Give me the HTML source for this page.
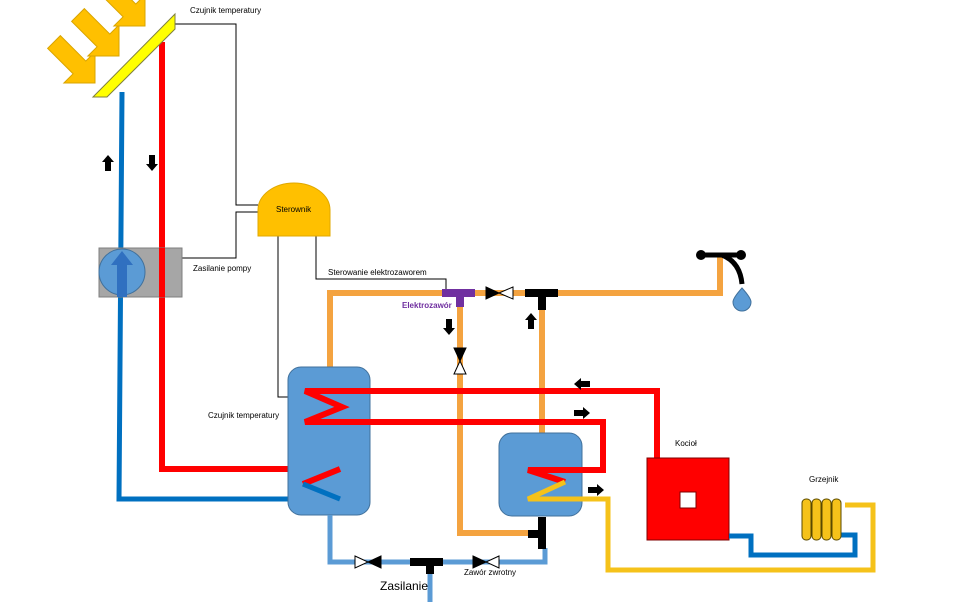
<!DOCTYPE html>
<html><head><meta charset="utf-8"><style>
html,body{margin:0;padding:0;background:#fff;}
svg{display:block;}
text{font-family:"Liberation Sans",sans-serif;}
</style></head><body>
<svg width="964" height="602" viewBox="0 0 964 602" xmlns="http://www.w3.org/2000/svg">
<defs>
<polygon id="sun" points="-58,-9 -22,-9 -22,-22 0,0 -22,22 -22,9 -58,9" fill="#ffc000" stroke="#d9a400" stroke-width="1"/>
<polygon id="ar" points="-8,-3 1,-3 1,-6 8,0 1,6 1,3 -8,3" fill="#000"/>
</defs>
<!-- sun arrows -->
<use href="#sun" transform="translate(95,83) rotate(45)"/>
<use href="#sun" transform="translate(119,56) rotate(45)"/>
<use href="#sun" transform="translate(145,26) rotate(45)"/>

<!-- control lines -->
<g fill="none" stroke="#000" stroke-width="1">
<polyline points="175,24 236,24 236,205 258,205"/>
<polyline points="182,258 236,258 236,212 258,212"/>
<polyline points="278,236 278,397 297,397"/>
<polyline points="316,236 316,279 446,279 446,291"/>
</g>

<!-- solar pipes -->
<polyline points="122,92 119,499 340,499" fill="none" stroke="#0070c0" stroke-width="5"/>
<polyline points="162,42 162,469 340,469" fill="none" stroke="#f00" stroke-width="6"/>

<!-- pump -->
<rect x="99" y="248" width="83" height="49" fill="#a6a6a6" stroke="#7f7f7f"/>
<circle cx="122" cy="272" r="23" fill="#5b9bd5" stroke="#41719c"/>
<rect x="117" y="262" width="10" height="35" fill="#3070c0"/>
<polygon points="111,265 122,251 133,265" fill="#3070c0"/>
<line x1="162" y1="248" x2="162" y2="297" stroke="#f00" stroke-width="6"/>

<!-- solar panel -->
<polygon points="93,97 175,14 175,29 107,97" fill="#ffff00" stroke="#7f7f3f" stroke-width="1"/>

<!-- orange hot water -->
<g fill="none" stroke="#f4a340" stroke-width="6">
<polyline points="330,367 330,293 720,293 720,257"/>
<polyline points="460,300 460,533 530,533"/>
<polyline points="542,300 542,433"/>
</g>

<!-- tanks -->
<rect x="288" y="367" width="82" height="148" rx="13" fill="#5b9bd5" stroke="#41719c"/>
<rect x="499" y="433" width="83" height="83" rx="13" fill="#5b9bd5" stroke="#41719c"/>

<!-- red boiler loop -->
<polyline points="657,458 657,391 305,391 342,407 305,422 603,422 603,470 528,470 565,482" fill="none" stroke="#f00" stroke-width="6" stroke-linejoin="miter"/>
<polyline points="565,482 528,499 608,499 608,570 873,570 873,505 845,505" fill="none" stroke="#f5c21a" stroke-width="5"/>
<!-- solar coil -->
<polyline points="340,469 303,484" fill="none" stroke="#f00" stroke-width="6"/>
<polyline points="303,484 340,499" fill="none" stroke="#0070c0" stroke-width="5"/>

<!-- kociol -->
<rect x="647" y="458" width="82" height="82" fill="#f00" stroke="#7f0000"/>
<rect x="680" y="492" width="16" height="16" fill="#fff" stroke="#7f0000"/>
<polyline points="729,536 751,536 751,555 855,555 855,535 841,535" fill="none" stroke="#0070c0" stroke-width="5"/>

<!-- radiator -->
<g fill="#f5c21a" stroke="#5a4a00" stroke-width="1">
<rect x="802" y="499" width="9" height="41" rx="4"/>
<rect x="812" y="499" width="9" height="41" rx="4"/>
<rect x="822" y="499" width="9" height="41" rx="4"/>
<rect x="832" y="499" width="9" height="41" rx="4"/>
</g>

<!-- light blue supply -->
<polyline points="330,515 330,562 545,562 545,548" fill="none" stroke="#5b9bd5" stroke-width="5"/>
<line x1="430" y1="562" x2="430" y2="602" stroke="#5b9bd5" stroke-width="5"/>

<!-- black tees -->
<rect x="410" y="558" width="33" height="8" fill="#000"/>
<rect x="426" y="558" width="8" height="16" fill="#000"/>
<rect x="538" y="517" width="8" height="32" fill="#000"/>
<rect x="528" y="530" width="12" height="8" fill="#000"/>
<rect x="525" y="289" width="33" height="8" fill="#000"/>
<rect x="538" y="289" width="8" height="21" fill="#000"/>

<!-- electrovalve -->
<rect x="442" y="289" width="33" height="8" fill="#7030a0"/>
<rect x="456" y="289" width="8" height="18" fill="#7030a0"/>

<!-- valves -->
<polygon points="486,287 499,293 486,299" fill="#000" stroke="#000"/>
<polygon points="513,287 499,293 513,299" fill="#fff" stroke="#000"/>
<polygon points="454,348 460,361 466,348" fill="#000" stroke="#000"/>
<polygon points="454,374 460,361 466,374" fill="#fff" stroke="#000"/>
<polygon points="355,556 368,562 355,568" fill="#fff" stroke="#000"/>
<polygon points="381,556 368,562 381,568" fill="#000" stroke="#000"/>
<polygon points="473,556 486,562 473,568" fill="#000" stroke="#000"/>
<polygon points="499,556 486,562 499,568" fill="#fff" stroke="#000"/>

<!-- tap -->
<line x1="701" y1="255" x2="741" y2="255" stroke="#000" stroke-width="5"/>
<circle cx="701" cy="255" r="5" fill="#000"/>
<circle cx="741" cy="255" r="5" fill="#000"/>
<path d="M722,255 Q740,262 742,284" fill="none" stroke="#000" stroke-width="5"/>
<path d="M742,288 Q733,298 733,302 A9,9 0 0 0 751,302 Q751,298 742,288 Z" fill="#5b9bd5" stroke="#41719c"/>

<!-- sterownik -->
<path d="M258,236 L258,210 A36,27 0 0 1 330,210 L330,236 Z" fill="#ffc000" stroke="#e0a800"/>

<!-- small arrows -->
<use href="#ar" transform="translate(108,163) rotate(-90)"/>
<use href="#ar" transform="translate(152,163) rotate(90)"/>
<use href="#ar" transform="translate(449,327) rotate(90)"/>
<use href="#ar" transform="translate(531,321) rotate(-90)"/>
<use href="#ar" transform="translate(582,384) rotate(180)"/>
<use href="#ar" transform="translate(582,413)"/>
<use href="#ar" transform="translate(596,490)"/>

<!-- labels -->
<g font-size="8" fill="#000">
<text x="190" y="13">Czujnik temperatury</text>
<text x="276" y="212">Sterownik</text>
<text x="193" y="271">Zasilanie pompy</text>
<text x="328" y="275">Sterowanie elektrozaworem</text>
<text x="208" y="418">Czujnik temperatury</text>
<text x="675" y="446">Kocioł</text>
<text x="809" y="482">Grzejnik</text>
<text x="464" y="575">Zawór zwrotny</text>
</g>
<text x="402" y="308" font-size="8" font-weight="bold" fill="#7030a0">Elektrozawór</text>
<text x="380" y="590" font-size="12" fill="#000">Zasilanie</text>
</svg>
</body></html>
